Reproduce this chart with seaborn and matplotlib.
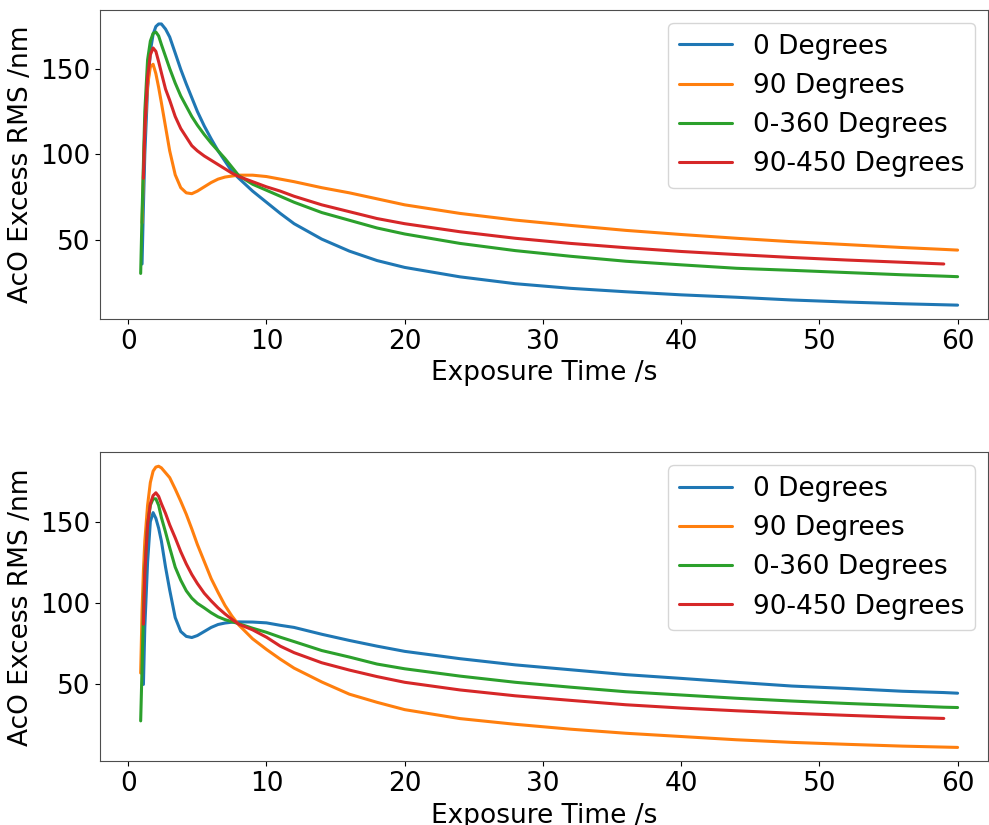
import numpy as np
import pandas as pd
import matplotlib
matplotlib.use("Agg")
import matplotlib.pyplot as plt
import seaborn as sns

nan = np.nan

# exposure times (s)
t = [0.9, 1.0, 1.1, 1.2, 1.4, 1.6, 1.8, 2.0, 2.2, 2.4, 2.7, 3.0, 3.4, 3.8, 4.2,
     4.6, 5.0, 5.5, 6.0, 6.5, 7.0, 7.5, 8.0, 9.0, 10, 11, 12, 14, 16, 18, 20,
     24, 28, 32, 36, 40, 44, 48, 52, 56, 59, 60]

labels = ["0 Degrees", "90 Degrees", "0-360 Degrees", "90-450 Degrees"]

# top panel
top_0 = [nan, 36, 70, 100, 138, 160, 170, 174.5, 176, 176, 173, 168.4, 159, 149.5, 141,
         133, 125, 116.5, 109, 102, 96, 90, 86, 78.5, 72, 65.5, 59.5, 50.5, 43.5, 38, 34,
         28.5, 24.5, 21.8, 19.8, 18.0, 16.6, 15.0, 13.8, 12.8, 12.2, 12.0]
top_90 = [nan, 60, 90, 115, 140, 151, 152.5, 147, 139, 130, 116, 102, 88, 80.5, 77.5,
          77, 78.5, 81, 83.5, 85.5, 86.7, 87.3, 87.8, 87.8, 87, 85.5, 84, 80.5, 77.5, 74, 70.5,
          65.5, 61.6, 58.5, 55.6, 53.2, 51, 49, 47.3, 45.6, 44.5, 44.1]
top_0_360 = [30.5, 65, 95, 125, 155, 166, 170.5, 171.3, 169, 164, 157, 150, 141.5, 134, 128,
             122, 117, 111.5, 106.5, 102, 97.5, 92.5, 87.5, 82.5, 79, 75.5, 72, 66, 61.5, 57, 53.5,
             48, 43.8, 40.5, 37.6, 35.5, 33.5, 32.3, 31, 29.7, 28.9, 28.6]
top_90_450 = [nan, nan, 86, 115, 145, 158, 162, 160, 154, 147.5, 138, 131.5, 122, 115, 110,
              105, 102, 99, 96.5, 94, 91.5, 89, 87, 84, 81, 78.5, 75.5, 70.5, 66.5, 62.5, 59.5,
              54.8, 51, 48, 45.5, 43.3, 41.5, 39.8, 38.3, 37, 36, nan]

# bottom panel
bot_0 = [nan, nan, 50, 85, 125, 150, 155.5, 152, 146, 138, 122, 108, 91, 82.5, 79.5,
         78.8, 80, 82.5, 85, 86.8, 87.7, 88.2, 88.4, 88.3, 87.8, 86.3, 85, 80.8, 77, 73.5, 70.3,
         65.8, 62, 59, 56, 53.7, 51.3, 49, 47.5, 45.8, 45, 44.6]
bot_90 = [57, 95, 120, 138, 160, 174, 181, 183.5, 184, 183, 180, 177, 170, 162.5, 154.5,
          145.5, 136, 125.5, 115, 106.5, 98.5, 92, 86.5, 78, 71.5, 65.5, 60, 51.5, 44, 39, 34.5,
          29, 25.5, 22.5, 20, 18, 16, 14.4, 13.2, 12.1, 11.5, 11.3]
bot_0_360 = [27.6, 60, 95, 120, 148, 160, 164, 164, 160, 152.5, 143.5, 134, 122, 114, 107.5,
             103, 99.8, 97, 94, 91.5, 89.8, 88.5, 87.3, 84.5, 82, 79, 76.3, 70.8, 66.8, 62.5, 59.6,
             55.1, 51.3, 48.3, 45.5, 43.5, 41.5, 39.8, 38.3, 37, 36, 35.8]
bot_90_450 = [nan, nan, 87, 118, 148, 161, 166, 167.7, 165.5, 161, 155, 148, 140, 131.5, 124,
              117.5, 112, 106, 101.3, 97, 93.3, 90, 87, 83.5, 79, 73.5, 69.5, 63.3, 58.8, 54.8, 51.3,
              46.6, 43, 40.2, 37.5, 35.5, 33.8, 32.3, 31, 29.8, 29.1, nan]


def make_df(series):
    frames = []
    for lab, vals in zip(labels, series):
        frames.append(pd.DataFrame({"t": t, "rms": vals, "run": lab}))
    return pd.concat(frames).dropna()


sns.set_style("ticks", {"xtick.major.size": 3.5, "ytick.major.size": 3.5,
                        "axes.edgecolor": "0.3", "text.color": "black",
                        "axes.labelcolor": "black", "xtick.color": "black",
                        "ytick.color": "black"})
plt.rcParams["font.family"] = ["DejaVu Sans"]

fig, axes = plt.subplots(2, 1, figsize=(9.89, 8.25), dpi=100)
plt.subplots_adjust(left=0.101, right=0.999, top=0.988, bottom=0.077, hspace=0.43)

for ax, series in zip(axes, [[top_0, top_90, top_0_360, top_90_450],
                             [bot_0, bot_90, bot_0_360, bot_90_450]]):
    df = make_df(series)
    sns.lineplot(data=df, x="t", y="rms", hue="run", hue_order=labels,
                 palette="tab10", linewidth=2.2, ax=ax)
    ax.set_xlim(-2.05, 62.2)
    ax.set_xlabel("Exposure Time /s", fontsize=19)
    ax.set_ylabel("AcO Excess RMS /nm", fontsize=19)
    ax.tick_params(labelsize=19)
    ax.set_xticks([0, 10, 20, 30, 40, 50, 60])
    ax.set_yticks([50, 100, 150])
    ax.legend(fontsize=19, loc="upper right")

plt.savefig("out.png", dpi=100)
